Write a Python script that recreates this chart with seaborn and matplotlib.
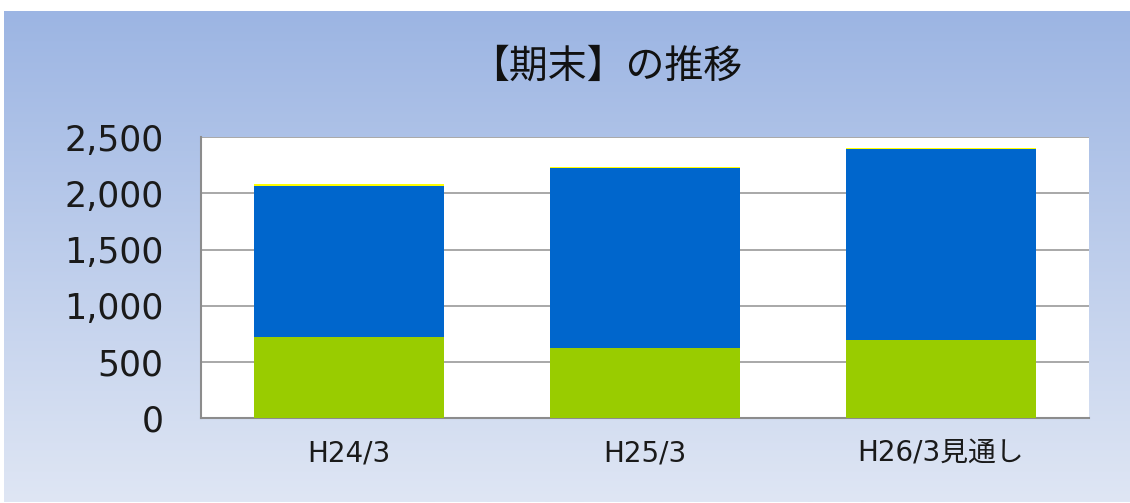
import numpy as np
import pandas as pd
import matplotlib
matplotlib.use("Agg")
import matplotlib.pyplot as plt
from matplotlib.colors import LinearSegmentedColormap
import seaborn as sns

categories = ["H24/3", "H25/3", "H26/3見通し"]
green_vals = [720, 625, 697]
blue_vals = [1347, 1602, 1699]
yellow_vals = [18, 9, 9]
yticks = [0, 500, 1000, 1500, 2000, 2500]
title = "【期末】の推移"

sns.set_theme(style="white")
plt.rcParams["font.family"] = ["DejaVu Sans", "Noto Sans CJK JP"]

W, H = 1130, 503
fig = plt.figure(figsize=(W / 100, H / 100), dpi=100)
fig.patch.set_facecolor("white")

# gradient background box
bg = fig.add_axes([4 / W, 1 - 501.5 / H, 1 - 4 / W, (501.5 - 11) / H])
cmap = LinearSegmentedColormap.from_list("bg", ["#9cb5e3", "#dfe6f4"])
grad = np.linspace(0, 1, 256).reshape(-1, 1)
bg.imshow(grad, aspect="auto", cmap=cmap, extent=[0, 1, 0, 1], origin="upper")
bg.set_axis_off()
bg.set_zorder(0)

df = pd.DataFrame({
    "cat": categories,
    "green": green_vals,
    "blue": blue_vals,
    "yellow": yellow_vals,
})
df["c_blue"] = df["green"] + df["blue"]
df["c_yellow"] = df["c_blue"] + df["yellow"]

ax = fig.add_axes([201 / W, 1 - 418.3 / H, (1089 - 201) / W, (418.3 - 137.3) / H])
ax.set_zorder(1)
ax.set_facecolor("white")

for col, color in [("c_yellow", "#ffff00"), ("c_blue", "#0066cc"), ("green", "#99cc00")]:
    sns.barplot(data=df, x="cat", y=col, color=color, width=0.64, ax=ax,
                saturation=1, edgecolor="none", linewidth=0, zorder=3)

ax.set_ylim(0, 2500)
ax.set_xlim(-0.5, 2.5)
ax.set_yticks(yticks)
ax.set_yticklabels([f"{v:,}" for v in yticks], fontsize=25, color="#1a1a1a")
ax.tick_params(axis="y", length=0, pad=27)
ax.tick_params(axis="x", length=0, pad=15, labelsize=20, labelcolor="#1a1a1a")
ax.set_xlabel("")
ax.set_ylabel("")
ax.grid(axis="y", color="#a8a8a8", linewidth=1.4, zorder=0)
ax.set_axisbelow(True)
for s in ["top", "right"]:
    ax.spines[s].set_visible(False)
ax.spines["left"].set_color("#8c8c8c")
ax.spines["left"].set_linewidth(1.5)
ax.spines["bottom"].set_color("#8c8c8c")
ax.spines["bottom"].set_linewidth(1.5)

fig.text(606 / W, 1 - 67 / H, title, ha="center", va="center", fontsize=28,
         family=["Noto Sans CJK JP", "DejaVu Sans"], color="#111111")

fig.savefig("out.png", dpi=100, facecolor="white")
